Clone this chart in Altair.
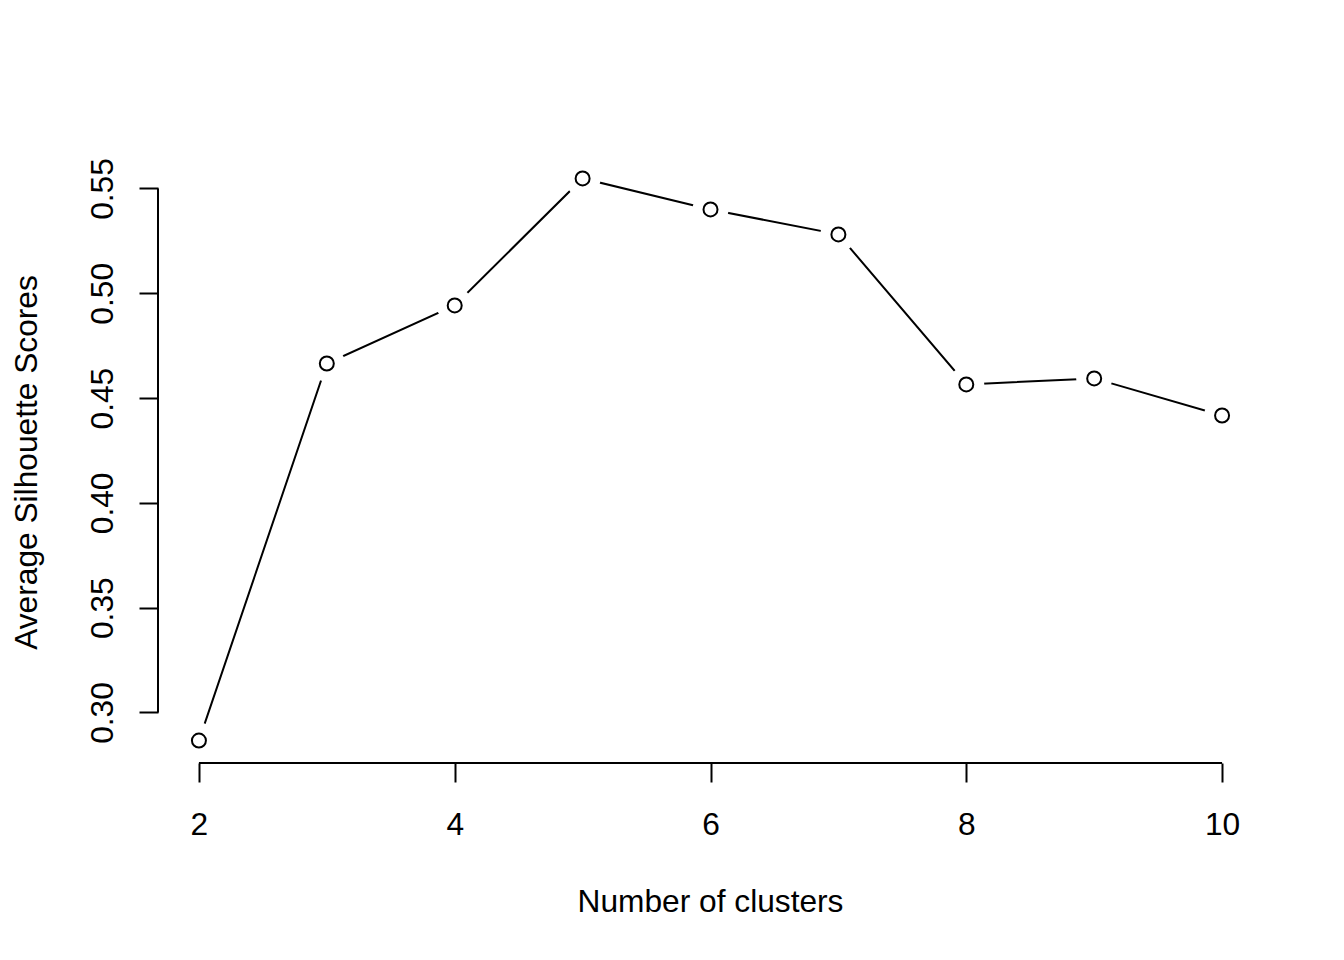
import altair as alt
import pandas as pd

clusters = [2, 3, 4, 5, 6, 7, 8, 9, 10]
scores = [0.2866, 0.4665, 0.4942, 0.5548, 0.5400, 0.5281, 0.4565, 0.4594, 0.4417]
x_ticks = [2, 4, 6, 8, 10]
y_ticks = [0.30, 0.35, 0.40, 0.45, 0.50, 0.55]

df = pd.DataFrame({"k": clusters, "s": scores})
FONT = "Liberation Sans"
FS = 31.7
W, H = 1105, 607

xs = alt.Scale(domain=[1.68, 10.32], nice=False, zero=False)
ys = alt.Scale(domain=[0.2759, 0.5655], nice=False, zero=False)

xaxis = alt.Axis(values=x_ticks, format="d", domain=False, grid=False, tickSize=19, tickWidth=2,
                 tickColor="black", labelFont=FONT, labelFontSize=FS, labelColor="black",
                 labelBaseline="alphabetic", labelPadding=52, labelFlush=False,
                 title="Number of clusters", titleFont=FONT, titleFontSize=FS,
                 titleFontWeight="normal", titleColor="black", titleX=552, titleY=148,
                 titleBaseline="alphabetic", titleAlign="center")
yaxis = alt.Axis(values=y_ticks, domain=False, grid=False, tickSize=19, tickWidth=2,
                 tickColor="black", labelFont=FONT, labelFontSize=FS, labelColor="black",
                 labelAngle=270, labelAlign="center", labelBaseline="alphabetic",
                 labelPadding=27, labelFlush=False, format=".2f",
                 title="Average Silhouette Scores", titleFont=FONT, titleFontSize=FS,
                 titleFontWeight="normal", titleColor="black", titleX=-122, titleY=306,
                 titleAngle=270, titleBaseline="alphabetic", titleAlign="center")

base = alt.Chart(df)
line = base.mark_line(color="black", strokeWidth=2).encode(
    x=alt.X("k:Q", scale=xs, axis=xaxis),
    y=alt.Y("s:Q", scale=ys, axis=yaxis),
)
halo = base.mark_point(shape="circle", filled=True, color="white", size=1296, opacity=1).encode(
    x=alt.X("k:Q", scale=xs), y=alt.Y("s:Q", scale=ys)
)
pts = base.mark_point(shape="circle", filled=False, color="black", fill="white",
                      fillOpacity=1, opacity=1, size=196, strokeWidth=2).encode(
    x=alt.X("k:Q", scale=xs), y=alt.Y("s:Q", scale=ys)
)

xline = alt.Chart(pd.DataFrame({"a": [x_ticks[0]], "b": [x_ticks[-1]]})).mark_rule(
    color="black", strokeWidth=2).encode(
    x=alt.X("a:Q", scale=xs), x2="b:Q", y=alt.value(H)
)
yline = alt.Chart(pd.DataFrame({"a": [y_ticks[0]], "b": [y_ticks[-1]]})).mark_rule(
    color="black", strokeWidth=2).encode(
    y=alt.Y("a:Q", scale=ys), y2="b:Q", x=alt.value(0)
)

chart = alt.layer(line, halo, pts, xline, yline).properties(
    width=W, height=H,
    background="white",
    autosize=alt.AutoSizeParams(type="none"),
    padding={"left": 150, "top": 148, "right": 60, "bottom": 180},
).configure_view(strokeWidth=0, strokeOpacity=0)

chart.save("out.html", embed_options={"renderer": "svg", "actions": False})
